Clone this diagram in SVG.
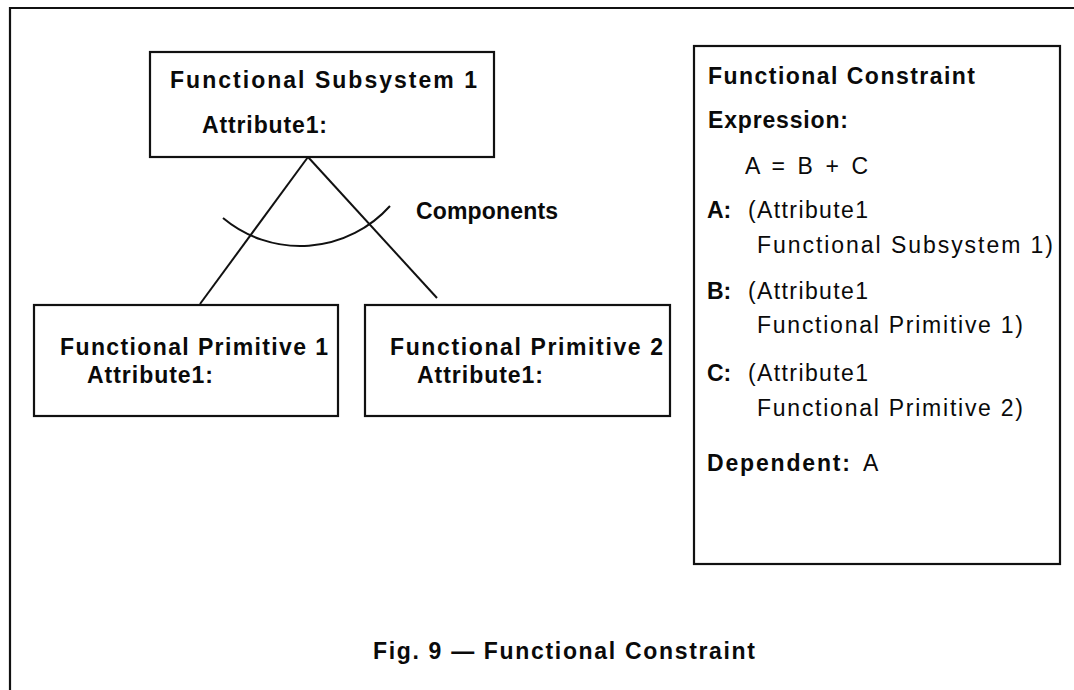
<svg xmlns="http://www.w3.org/2000/svg" width="1074" height="690" viewBox="0 0 1074 690">
  <style>
    .frame { fill: none; stroke: #111; stroke-width: 2.2; }
    .box { fill: #fff; stroke: #111; stroke-width: 2.2; }
    .link { fill: none; stroke: #111; stroke-width: 2; }
    text { font-family: "Liberation Sans", Arial, Helvetica, sans-serif; font-size: 23px; fill: #0a0a0a; }
    .b { font-weight: 700; }
    .r { font-weight: 400; }
  </style>

  <rect x="0" y="0" width="1074" height="690" fill="#fff"/>

  <!-- page frame (open at right and bottom) -->
  <path class="frame" d="M10,690 V8 H1074"/>

  <!-- composition links from the subsystem to its primitives -->
  <g id="connectors">
    <line class="link" x1="308" y1="157" x2="200" y2="304"/>
    <line class="link" x1="308" y1="157" x2="437" y2="298"/>
    <path class="link" d="M223,218 A120.5,120.5 0 0 0 390,206"/>
    <text class="b" x="416" y="219" textLength="142" lengthAdjust="spacing">Components</text>
  </g>

  <g id="subsystem">
    <rect class="box" x="150" y="52" width="344" height="105"/>
    <text class="b" x="170" y="88" textLength="307" lengthAdjust="spacing">Functional Subsystem 1</text>
    <text class="b" x="202" y="133" textLength="125" lengthAdjust="spacing">Attribute1:</text>
  </g>

  <g id="primitive1">
    <rect class="box" x="34" y="305" width="304" height="111"/>
    <text class="b" x="60" y="355" textLength="268" lengthAdjust="spacing">Functional Primitive 1</text>
    <text class="b" x="87" y="383" textLength="126" lengthAdjust="spacing">Attribute1:</text>
  </g>

  <g id="primitive2">
    <rect class="box" x="365" y="305" width="305" height="111"/>
    <text class="b" x="390" y="355" textLength="273" lengthAdjust="spacing">Functional Primitive 2</text>
    <text class="b" x="417" y="383" textLength="126" lengthAdjust="spacing">Attribute1:</text>
  </g>

  <g id="constraint">
    <rect class="box" x="694" y="46" width="366" height="518"/>
    <text class="b" x="708" y="84" textLength="267" lengthAdjust="spacing">Functional Constraint</text>
    <text class="b" x="708" y="128" textLength="140" lengthAdjust="spacing">Expression:</text>
    <text class="r" x="745" y="174" textLength="123" lengthAdjust="spacing">A = B + C</text>

    <text class="b" x="707" y="218">A:</text>
    <text class="r" x="748" y="218" textLength="120" lengthAdjust="spacing">(Attribute1</text>
    <text class="r" x="757" y="253" textLength="296" lengthAdjust="spacing">Functional Subsystem 1)</text>

    <text class="b" x="707" y="299">B:</text>
    <text class="r" x="748" y="299" textLength="120" lengthAdjust="spacing">(Attribute1</text>
    <text class="r" x="757" y="333" textLength="266" lengthAdjust="spacing">Functional Primitive 1)</text>

    <text class="b" x="707" y="381">C:</text>
    <text class="r" x="748" y="381" textLength="120" lengthAdjust="spacing">(Attribute1</text>
    <text class="r" x="757" y="416" textLength="266" lengthAdjust="spacing">Functional Primitive 2)</text>

    <text class="b" x="707" y="471" textLength="143" lengthAdjust="spacing">Dependent:</text>
    <text class="r" x="863" y="471">A</text>
  </g>

  <g id="caption">
    <text class="b" x="373" y="659" textLength="382" lengthAdjust="spacing">Fig. 9 — Functional Constraint</text>
  </g>
</svg>
